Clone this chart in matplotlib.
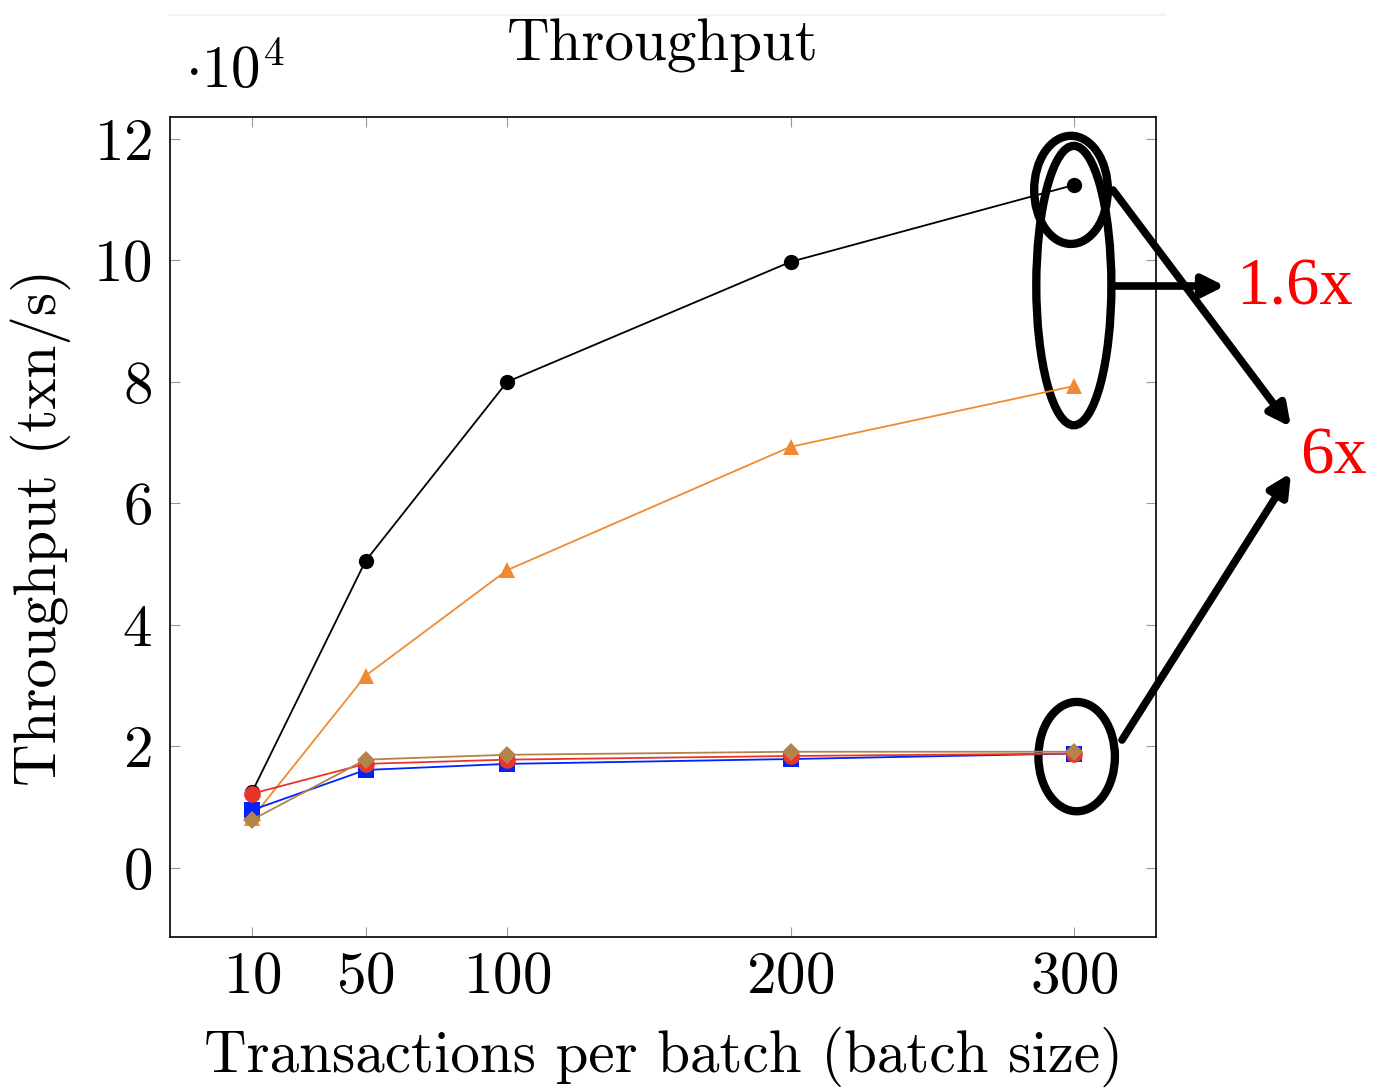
import matplotlib
matplotlib.use('Agg')
import matplotlib.pyplot as plt
from matplotlib.patches import Ellipse
from matplotlib.lines import Line2D

plt.rcParams['font.family'] = ['cmr10', 'DejaVu Serif']
plt.rcParams['mathtext.fontset'] = 'cm'
plt.rcParams['axes.formatter.use_mathtext'] = True

# batch sizes and throughput (txn/s)
batch = [10, 50, 100, 200, 300]
black_tp = [12500, 50500, 80000, 99750, 112400]
orange_tp = [8200, 31600, 49000, 69300, 79300]
red_tp = [12200, 17100, 17800, 18400, 18800]
blue_tp = [9500, 16100, 17100, 17900, 18800]
brown_tp = [7900, 17800, 18600, 19100, 19100]

series = [
    (black_tp, '#000000', 'o', 11),
    (orange_tp, '#f08a32', '^', 11),
    (blue_tp, '#0022ff', 's', 11),
    (red_tp, '#e8352a', 'o', 12),
    (brown_tp, '#b38349', 'D', 9),
]

FS = 42.5
W, H = 1375, 1090
fig = plt.figure(figsize=(W / 100, H / 100), dpi=100)
ax = fig.add_axes([170 / W, 1 - 937 / H, (1156 - 170) / W, (937 - 117) / H])

for vals, col, mk, ms in series:
    ax.plot(batch, [v / 1e4 for v in vals], color=col, marker=mk, markersize=ms,
            linewidth=1.3, markeredgewidth=0)

ax.set_xlim(-19, 329)
ax.set_ylim(-1.14, 12.36)
ax.set_xticks(batch)
ax.set_yticks([0, 2, 4, 6, 8, 10, 12])
ax.tick_params(direction='in', length=7, width=0.8, color='#999999',
               top=True, right=True, labelsize=FS, pad=13)
ax.tick_params(axis='x', pad=10)
for s in ax.spines.values():
    s.set_linewidth(1.2)

ax.set_title('Throughput', fontsize=FS, pad=41)
ax.set_xlabel('Transactions per batch (batch size)', fontsize=FS, labelpad=16)
ax.set_ylabel('Throughput (txn/s)', fontsize=FS, labelpad=16)
fig.text(185 / W, 1 - 72 / H, r'$\cdot 10^4$', fontsize=FS, va='center', ha='left')

# faint line at the very top
fig.add_artist(Line2D([170 / W, 1165 / W], [1 - 15 / H, 1 - 15 / H], color='#f2f2f2', lw=1.5))

# ellipses around the last points
xe = batch[-1]
top_y = black_tp[-1] / 1e4
mid_y = (black_tp[-1] + orange_tp[-1]) / 2e4
low_y = red_tp[-1] / 1e4
for cx, cy, w, h in [(xe - 1, top_y - 0.08, 26, 1.78),
                     (xe, mid_y, 26.5, 4.6),
                     (xe + 1, low_y - 0.05, 27, 1.8)]:
    ax.add_patch(Ellipse((cx, cy), w, h, fill=False, edgecolor='black', lw=6, clip_on=False))


def fpx(x, y):
    return (x / W, 1 - y / H)


arrow = dict(arrowstyle='-|>', color='black', lw=5.5, mutation_scale=32, shrinkA=0, shrinkB=0)
ax.annotate('', xy=fpx(1225, 286), xytext=fpx(1112, 286), xycoords='figure fraction',
            textcoords='figure fraction', arrowprops=arrow, annotation_clip=False)
ax.annotate('', xy=fpx(1291, 427), xytext=fpx(1113, 190), xycoords='figure fraction',
            textcoords='figure fraction', arrowprops=arrow, annotation_clip=False)
ax.annotate('', xy=fpx(1291, 473), xytext=fpx(1122, 740), xycoords='figure fraction',
            textcoords='figure fraction', arrowprops=arrow, annotation_clip=False)

fig.text(*fpx(1236, 288), '1.6x', color='red', fontsize=48, family='Liberation Serif',
         va='center', ha='left')
fig.text(*fpx(1300, 457), '6x', color='red', fontsize=48, family='Liberation Serif',
         va='center', ha='left')

fig.savefig('out.png', dpi=100)
